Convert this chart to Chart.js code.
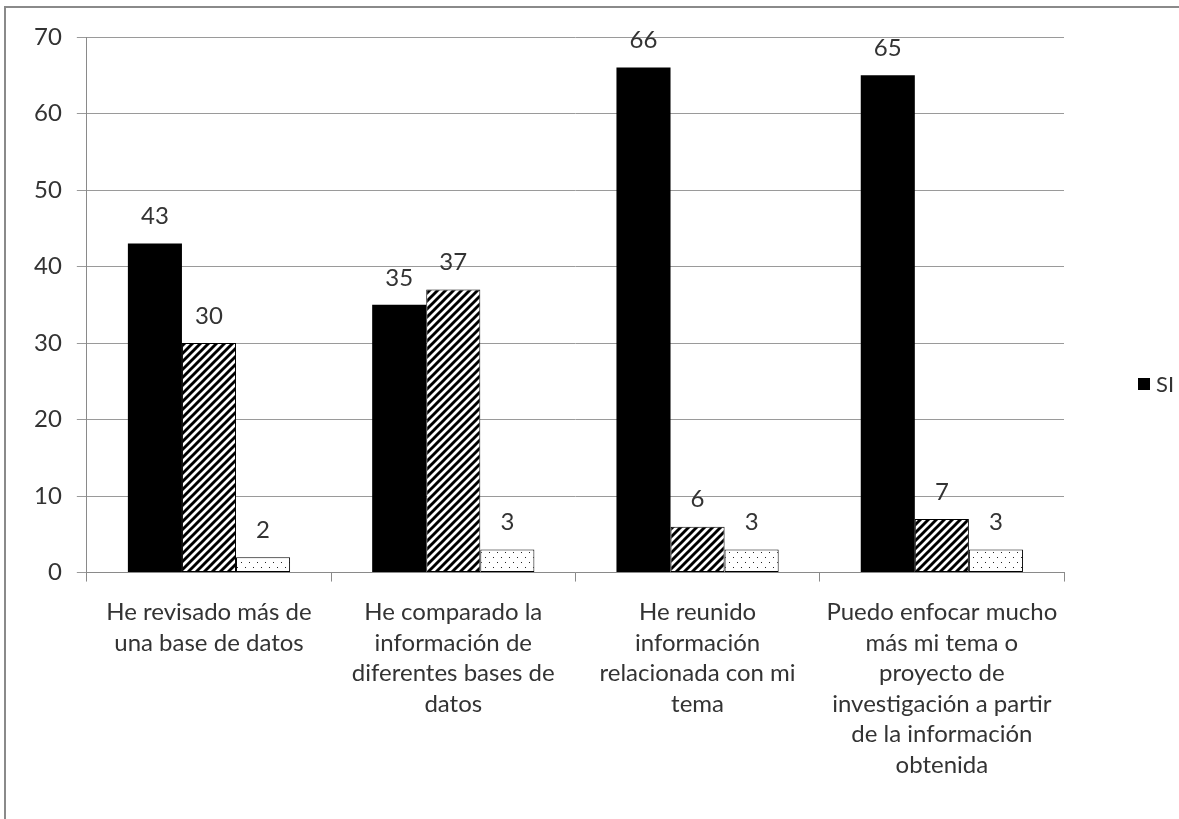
<!DOCTYPE html>
<html><head><meta charset="utf-8">
<script src="https://cdn.jsdelivr.net/npm/chart.js@4"></script>
<style>
html,body{margin:0;padding:0;background:#fff;overflow:hidden;}
#wrap{position:relative;width:1179px;height:819px;overflow:hidden;}
#frame{position:absolute;left:4px;top:6px;width:1400px;height:1000px;border:2px solid #8a8a8a;box-sizing:border-box;pointer-events:none;}
canvas{position:absolute;left:0;top:0;}
</style></head>
<body><div id="wrap"><canvas id="c" width="1179" height="819"></canvas><div id="frame"></div></div>
<script>
const categories = [
  ["He revisado más de", "una base de datos"],
  ["He comparado la", "información de", "diferentes bases de", "datos"],
  ["He reunido", "información", "relacionada con mi", "tema"],
  ["Puedo enfocar mucho", "más mi tema o", "proyecto de", "investigación a partir", "de la información", "obtenida"]
];
const seriesNames = ["SI", "NO", "NO SABE"];
const siValues = [43, 35, 66, 65];
const noValues = [30, 37, 6, 7];
const noSabeValues = [2, 3, 3, 3];
const yTickValues = [0, 10, 20, 30, 40, 50, 60, 70];

const FONT = "Lato, 'Open Sans', sans-serif";
const TEXT = "#333333";

function hatchPattern() {
  const p = 8;
  const c = document.createElement('canvas'); c.width = p; c.height = p;
  const g = c.getContext('2d');
  g.fillStyle = '#fff'; g.fillRect(0, 0, p, p);
  g.strokeStyle = '#000'; g.lineWidth = 2.9;
  g.beginPath();
  g.moveTo(-1, p + 1); g.lineTo(p + 1, -1);
  g.moveTo(-3, 3); g.lineTo(3, -3);
  g.moveTo(p - 3, p + 3); g.lineTo(p + 3, p - 3);
  g.stroke();
  return g.createPattern(c, 'repeat');
}
function dotPattern() {
  const c = document.createElement('canvas'); c.width = 8; c.height = 10;
  const g = c.getContext('2d');
  g.fillStyle = '#fff'; g.fillRect(0, 0, 8, 10);
  g.fillStyle = '#222';
  g.fillRect(1, 2, 1, 1);
  g.fillRect(5, 7, 1, 1);
  return g.createPattern(c, 'repeat');
}

const valueLabels = {
  id: 'valueLabels',
  afterDatasetsDraw(chart) {
    const ctx = chart.ctx;
    ctx.save();
    ctx.font = "24px " + FONT;
    ctx.fillStyle = TEXT;
    ctx.textAlign = 'center';
    ctx.textBaseline = 'middle';
    chart.data.datasets.forEach((ds, i) => {
      chart.getDatasetMeta(i).data.forEach((bar, j) => {
        ctx.fillText(String(ds.data[j]), bar.x, bar.y - 27);
      });
    });
    ctx.restore();
  }
};

const customLegend = {
  id: 'customLegend',
  afterDraw(chart) {
    const ctx = chart.ctx;
    const ds = chart.data.datasets[0];
    const x = chart.chartArea.right + 74;
    const y = 384;
    ctx.save();
    ctx.fillStyle = '#000';
    ctx.fillRect(x, y - 6, 12, 12);
    ctx.font = "22px " + FONT;
    ctx.fillStyle = TEXT;
    ctx.textAlign = 'left';
    ctx.textBaseline = 'middle';
    ctx.fillText(ds.label, x + 18, y + 1);
    ctx.restore();
  }
};

new Chart(document.getElementById('c'), {
  type: 'bar',
  data: {
    labels: categories,
    datasets: [
      { label: seriesNames[0], data: siValues, backgroundColor: '#000', borderWidth: 0 },
      { label: seriesNames[1], data: noValues, backgroundColor: hatchPattern(), borderColor: '#000', borderWidth: 1, borderSkipped: false },
      { label: seriesNames[2], data: noSabeValues, backgroundColor: dotPattern(), borderColor: '#000', borderWidth: 1, borderSkipped: false }
    ]
  },
  options: {
    responsive: false,
    animation: false,
    devicePixelRatio: 1,
    layout: { padding: { left: 19, right: 115, top: 37, bottom: 23 } },
    datasets: { bar: { categoryPercentage: 0.664, barPercentage: 1.0 } },
    plugins: { legend: { display: false }, tooltip: { enabled: false } },
    scales: {
      x: {
        grid: { offset: true, drawOnChartArea: false, drawTicks: true, tickLength: 9, color: '#8a8a8a', lineWidth: 1 },
        border: { display: true, color: '#8a8a8a', width: 1 },
        ticks: { color: TEXT, padding: 16, maxRotation: 0, autoSkip: false, font: { family: FONT, size: 24, lineHeight: 1.267 } }
      },
      y: {
        min: 0, max: 70,
        afterBuildTicks(scale) { scale.ticks = yTickValues.map(v => ({ value: v })); },
        grid: { color: '#9a9a9a', lineWidth: 1, tickLength: 10, drawTicks: true },
        border: { display: true, color: '#8a8a8a', width: 1 },
        ticks: { color: TEXT, padding: 15, font: { family: FONT, size: 24 } }
      }
    }
  },
  plugins: [valueLabels, customLegend]
});
</script>
</body></html>
